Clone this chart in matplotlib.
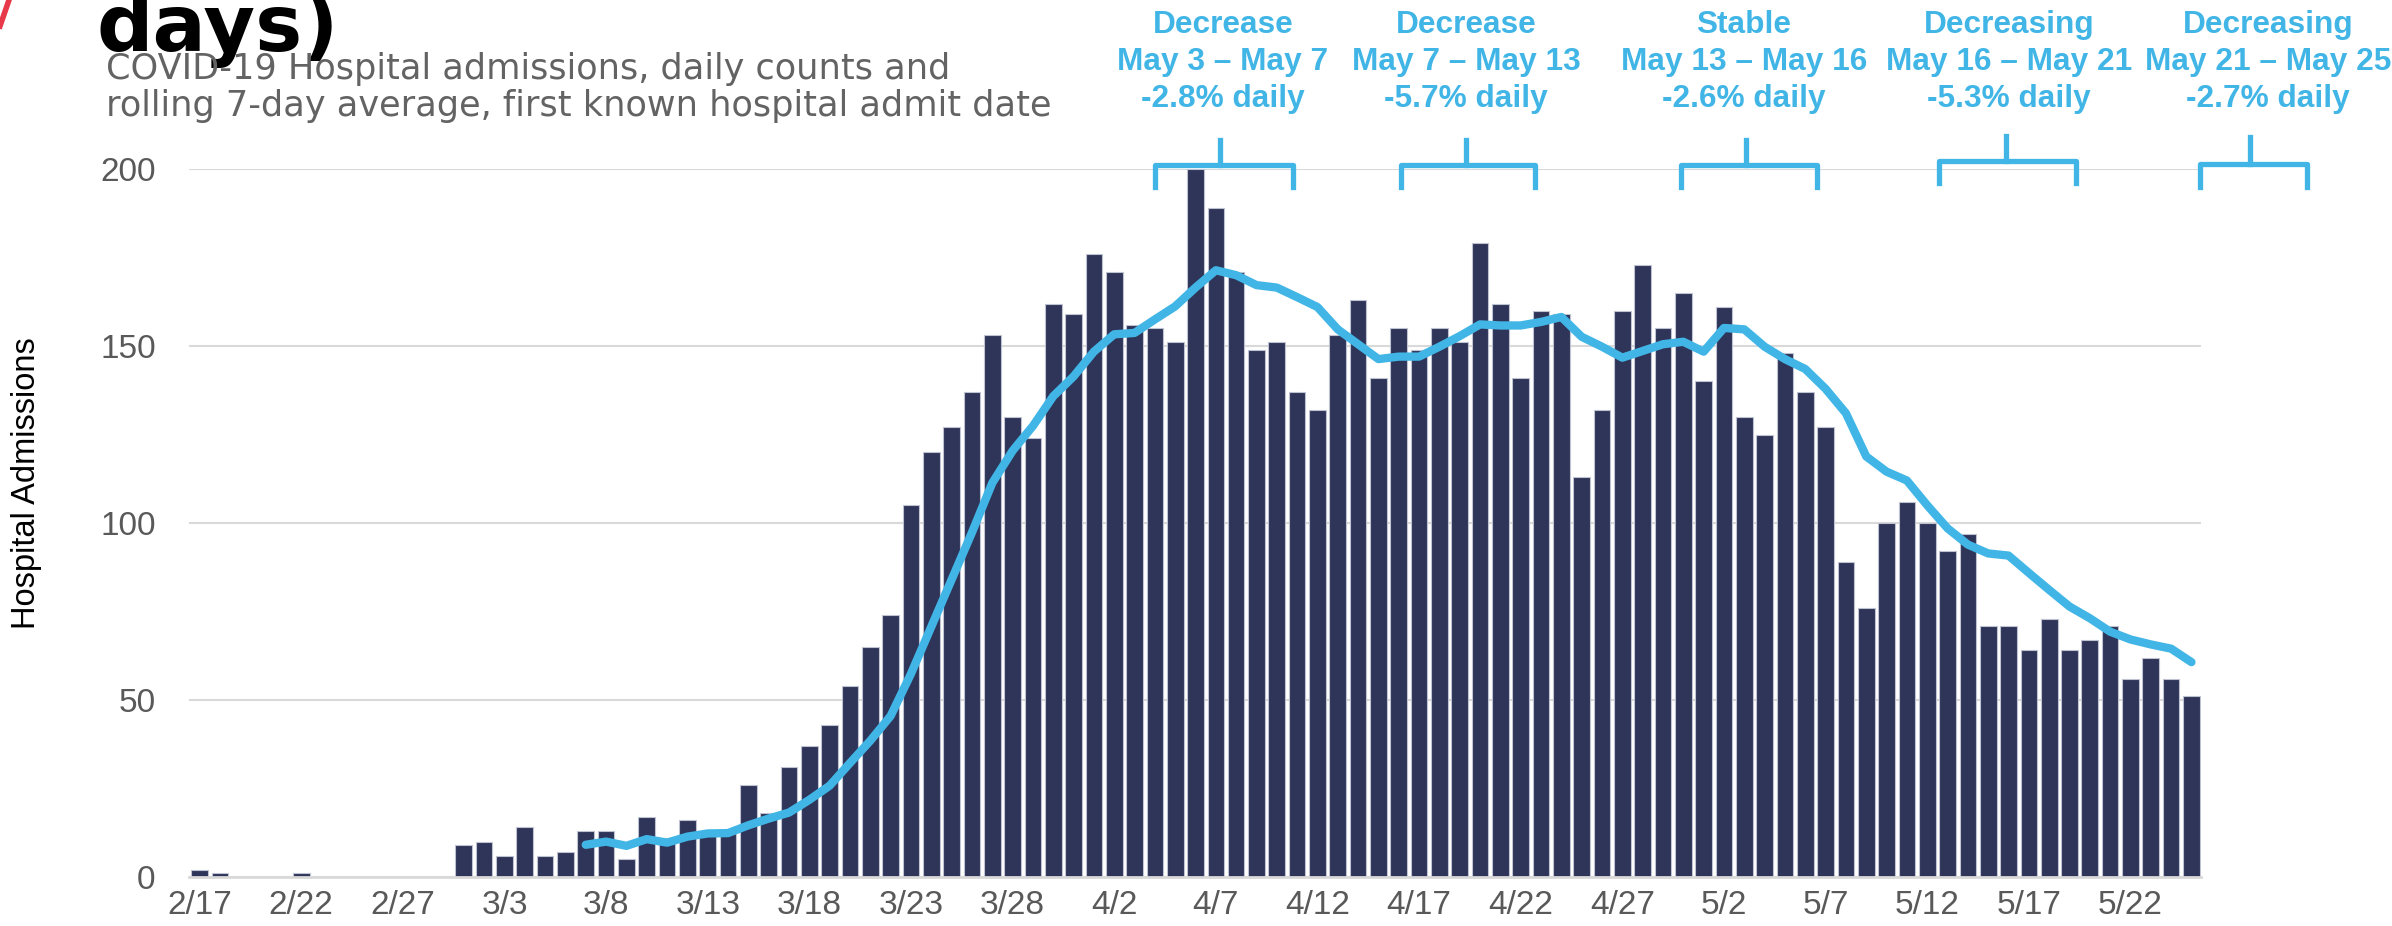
import numpy as np
import pandas as pd
import matplotlib
matplotlib.use("Agg")
import matplotlib.pyplot as plt
from matplotlib.lines import Line2D

# daily hospital admissions, 2/17 .. 5/25
dates = pd.date_range("2020-02-17", "2020-05-25", freq="D")
date_labels = [f"{d.month}/{d.day}" for d in dates]

admissions = [
    # Feb 17-29
    2, 1, 0, 0, 0, 1, 0, 0, 0, 0, 0, 0, 0,
    # March
    9, 10, 6, 14, 6, 7, 13, 13, 5, 17, 11, 16, 12, 13, 26, 18, 31, 37, 43, 54,
    65, 74, 105, 120, 127, 137, 153, 130, 124, 162, 159,
    # April
    176, 171, 156, 155, 151, 200, 189, 171, 149, 151, 137, 132, 153, 163, 141,
    155, 149, 155, 151, 179, 162, 141, 160, 159, 113, 132, 160, 173, 155, 165,
    # May
    140, 161, 130, 125, 148, 137, 127, 89, 76, 100, 106, 100, 92, 97, 71,
    71, 64, 73, 64, 67, 71, 56, 62, 56, 51,
]

# rolling 7-day average, starts 3/7
avg_start = "2020-03-07"
rolling_avg = [
    9.1, 10.0, 8.8, 10.7, 9.7, 11.4, 12.3, 12.4, 14.6, 16.5, 18.2, 21.8, 25.8,
    32.2, 38.5, 45.5, 57.4, 70.7, 84.0, 97.3, 111.3, 120.4, 127.4, 135.8, 141.4,
    148.4, 153.3, 153.7, 157.5, 161.2, 166.5, 171.4, 170.0, 167.2, 166.5, 163.8,
    161.0, 154.7, 150.5, 146.3, 147.0, 147.0, 149.8, 152.8, 156.1, 155.8, 155.8,
    156.8, 158.2, 152.6, 149.8, 146.7, 148.6, 150.5, 151.2,
    148.4, 155.1, 154.7, 149.8, 146.3, 143.5, 137.9, 131.0, 118.8, 114.5, 112.0,
    105.0, 98.5, 93.9, 91.4, 90.8, 85.9, 81.1, 76.4, 73.1, 69.3, 67.1, 65.7,
    64.5, 60.7,
]

y_ticks = [0, 50, 100, 150, 200]

trend_titles = ["Decrease", "Decrease", "Stable", "Decreasing", "Decreasing"]
trend_ranges = ["May 3 \u2013 May 7", "May 7 \u2013 May 13", "May 13 \u2013 May 16",
                "May 16 \u2013 May 21", "May 21 \u2013 May 25"]
trend_rates = ["-2.8% daily", "-5.7% daily", "-2.6% daily", "-5.3% daily", "-2.7% daily"]

NAVY = "#2E3559"
BLUE = "#41B6E6"
GREY = "#595959"

W, H = 2392, 926
fig = plt.figure(figsize=(W / 100, H / 100), dpi=100)
ax = fig.add_axes([189 / W, 49 / H, 2012 / W, 708 / H])

x = np.arange(len(admissions))
ax.bar(x, admissions, width=0.82, color=NAVY, edgecolor="#BFC2D0", linewidth=0.8, zorder=2)

avg_x = x[list(dates).index(pd.Timestamp(avg_start)):]
ax.plot(avg_x, rolling_avg, color=BLUE, linewidth=6, solid_capstyle="round",
        solid_joinstyle="round", zorder=3)

ax.set_xlim(-0.52, len(admissions) - 0.53)
ax.set_ylim(0, 200)
ax.set_yticks(y_ticks)
ax.set_xticks(x[::5])
ax.set_xticklabels(date_labels[::5])
ax.grid(axis="y", color="#D9D9D9", linewidth=1.5, zorder=0)
ax.set_axisbelow(True)
for s in ["top", "right", "left"]:
    ax.spines[s].set_visible(False)
ax.spines["bottom"].set_color("#D9D9D9")
ax.spines["bottom"].set_linewidth(2)
ax.tick_params(axis="both", length=0, labelsize=24, labelcolor=GREY)
ax.tick_params(axis="y", pad=24)
ax.tick_params(axis="x", pad=9)
for lab in ax.get_xticklabels() + ax.get_yticklabels():
    lab.set_fontfamily("Liberation Sans")

fig.text(27 / W, 1 - 483 / H, "Hospital Admissions", rotation=90, ha="center",
         va="center", fontsize=23.5, family="Liberation Sans", color="black")

# brackets above the bars: (left, stem, right, top, leg bottom, stem top)
brackets = [
    (47.0, 50.2, 53.8, 201.1, 194.9, 208.2),
    (59.1, 62.3, 65.7, 201.1, 194.9, 208.2),
    (72.9, 76.1, 79.6, 201.1, 194.9, 208.2),
    (85.6, 88.9, 92.3, 202.3, 196.1, 209.4),
    (98.4, 100.9, 103.7, 201.4, 194.9, 209.1),
]
for (l, m, r, top, bot, st) in brackets:
    ax.add_line(Line2D([l, l, r, r], [bot, top, top, bot], color=BLUE, lw=3.8,
                       solid_joinstyle="round", clip_on=False, zorder=4))
    ax.add_line(Line2D([m, m], [top, st], color=BLUE, lw=3.8, clip_on=False, zorder=4))

text_x = [1223, 1466, 1744, 2009, 2268]
for tx, t1, t2, t3 in zip(text_x, trend_titles, trend_ranges, trend_rates):
    fig.text(tx / W, 1 - 62 / H, f"{t1}\n{t2}\n{t3}", ha="center", va="center",
             fontsize=22.8, fontweight="bold", family="Liberation Sans", color=BLUE,
             linespacing=1.31)

# cut-off headline and subtitle
fig.text(96 / W, 1 - 51 / H, "days)", ha="left", va="baseline", fontsize=57,
         fontweight="bold", family="DejaVu Sans", color="black")
fig.text(106 / W, 1 - 79 / H, "COVID-19 Hospital admissions, daily counts and",
         ha="left", va="baseline", fontsize=25.3, family="DejaVu Sans", color="#636363")
fig.text(106 / W, 1 - 116 / H, "rolling 7-day average, first known hospital admit date",
         ha="left", va="baseline", fontsize=25.3, family="DejaVu Sans", color="#636363")

# bit of red logo peeking in at the corner
fig.add_artist(Line2D([0 / W, 9 / W], [1 - 26 / H, 1.0], color="#E8394B", lw=4,
                      transform=fig.transFigure))

fig.savefig("out.png", dpi=100)
